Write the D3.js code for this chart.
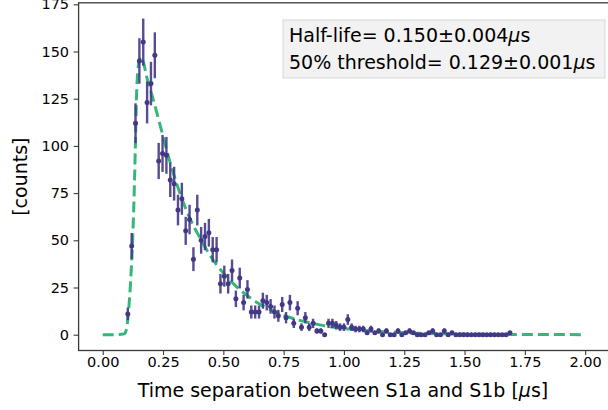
<!DOCTYPE html>
<html>
<head>
<meta charset="utf-8">
<script src="https://cdn.jsdelivr.net/npm/d3@7"></script>
<style>
  html, body { margin: 0; padding: 0; background: #fff; }
  svg { display: block; }
  text { font-family: "DejaVu Sans", sans-serif; fill: #000; }
</style>
</head>
<body>
<svg id="chart" width="608" height="410"></svg>
<script>
// ---- data ----
const binCenters = [
  0.104,0.120,0.136,0.152,0.168,0.184,0.200,0.216,0.232,0.248,
  0.264,0.280,0.296,0.312,0.328,0.344,0.360,0.376,0.392,0.408,
  0.424,0.440,0.456,0.472,0.488,0.504,0.520,0.536,0.552,0.568,
  0.584,0.600,0.616,0.632,0.648,0.664,0.680,0.696,0.712,0.728,
  0.744,0.760,0.776,0.792,0.808,0.824,0.840,0.856,0.872,0.888,
  0.904,0.920,0.936,0.952,0.968,0.984,1.000,1.016,1.032,1.048,
  1.064,1.080,1.096,1.112,1.128,1.144,1.160,1.176,1.192,1.208,
  1.224,1.240,1.256,1.272,1.288,1.304,1.320,1.336,1.352,1.368,
  1.384,1.400,1.416,1.432,1.448,1.464,1.480,1.496,1.512,1.528,
  1.544,1.560,1.576,1.592,1.608,1.624,1.640,1.656,1.672,1.688
];
const counts = [
  11,47,112,145,155,123,133,148,92,96,
  95,82,80,66,72,55,61,40,66,50,
  52,54,45,45,27,31,27,34,19,30,
  17,24,12,12,12,18,17,15,12,10,
  16,9,17,6,14,4,9,4,6,2,
  2,0,6,6,5,4,4,8,4,3,
  3,3,1,3,1,2,0,2,0,0,
  2,0,1,2,1,0,0,0,1,2,
  0,0,2,0,1,0,0,0,0,0,
  0,0,0,0,0,0,0,0,0,1
];
const countErrors = [
  3.32,6.86,10.58,12.04,12.45,11.09,11.53,12.17,9.59,9.80,
  9.75,9.06,8.94,8.12,8.49,7.42,7.81,6.32,8.12,7.07,
  7.21,7.35,6.71,6.71,5.20,5.57,5.20,5.83,4.36,5.48,
  4.12,4.90,3.46,3.46,3.46,4.24,4.12,3.87,3.46,3.16,
  4.00,3.00,4.12,2.45,3.74,2.00,3.00,2.00,2.45,1.41,
  1.41,0,2.45,2.45,2.24,2.00,2.00,2.83,2.00,1.73,
  1.73,1.73,1.00,1.73,1.00,1.41,0,1.41,0,0,
  1.41,0,1.00,1.41,1.00,0,0,0,1.00,1.41,
  0,0,1.41,0,1.00,0,0,0,0,0,
  0,0,0,0,0,0,0,0,0,1.00
];
// fitted curve
const fitX = [0,0.05,0.09,0.1,0.106,0.116,0.123,0.13,0.135,0.14,0.145,0.152,0.159,0.168,0.182,0.21,0.24,0.28,0.32,0.36,0.4,0.45,0.5,0.55,0.6,0.65,0.7,0.75,0.8,0.9,1.0,1.1,1.2,1.3,1.4,1.5,1.6,1.75,2.0];
const fitY = [0,0,0.5,4,11,29,47,73,98,126,139,145.5,147.2,144.6,136.7,124.3,110,91,75,62,52,41,32.7,26,20.6,16.3,13,10.3,8.2,5.2,3.25,2.05,1.3,0.8,0.5,0.32,0.2,0.1,0.03];
const xTicks = [0,0.25,0.5,0.75,1.0,1.25,1.5,1.75,2.0];
const yTicks = [0,25,50,75,100,125,150,175];
const xLabel = "Time separation between S1a and S1b [";
const yLabel = "[counts]";
const infoLines = [["Half-life= 0.150±0.004", "s"], ["50% threshold= 0.129±0.001", "s"]];

// ---- drawing ----
(function () {
const svg = d3.select("#chart");
const W = 608, H = 410;
svg.append("rect").attr("width", W).attr("height", H).attr("fill", "#fff");

const mLeft = 78.6, mRight = 609.3, mTop = 2.8, mBottom = 350.5;
const x = d3.scaleLinear().domain([-0.1, 2.1]).range([mLeft, mRight]);
const y = d3.scaleLinear().domain([-8.37, 175.8]).range([mBottom, mTop]);

const purple = "#433886";
const green = "#35b779";

// fit curve
const line = d3.line().x((d, i) => x(fitX[i])).y((d, i) => y(fitY[i])).curve(d3.curveMonotoneX);
svg.append("path").datum(fitY).attr("d", line)
  .attr("fill", "none").attr("stroke", green).attr("stroke-width", 3)
  .attr("stroke-dasharray", "11,5");

// error bars
const pts = svg.append("g");
pts.selectAll("line.err").data(counts).enter().append("line")
  .attr("x1", (d, i) => x(binCenters[i])).attr("x2", (d, i) => x(binCenters[i]))
  .attr("y1", (d, i) => y(d - countErrors[i])).attr("y2", (d, i) => y(d + countErrors[i]))
  .attr("stroke", purple).attr("stroke-width", 2.4).attr("stroke-opacity", 0.9);
pts.selectAll("circle").data(counts).enter().append("circle")
  .attr("cx", (d, i) => x(binCenters[i])).attr("cy", d => y(d))
  .attr("r", 2.5).attr("fill", purple);

// spines
svg.append("rect").attr("x", mLeft).attr("y", mTop).attr("width", mRight - mLeft).attr("height", mBottom - mTop)
  .attr("fill", "none").attr("stroke", "#3a3a3a").attr("stroke-width", 1.3);

// axes
const xAxis = d3.axisBottom(x).tickValues(xTicks).tickFormat(d3.format(".2f"))
  .tickSize(4.5).tickPadding(1.5).tickSizeOuter(0);
const gx = svg.append("g").attr("transform", `translate(0,${mBottom})`).call(xAxis);
gx.select(".domain").remove();
gx.selectAll("line").attr("stroke", "#3a3a3a").attr("stroke-width", 1.1);
gx.selectAll("text").attr("font-size", "14.5px").attr("font-family", "DejaVu Sans").attr("fill", "#111");

const yAxis = d3.axisLeft(y).tickValues(yTicks).tickFormat(d3.format("d"))
  .tickSize(5).tickPadding(4.5).tickSizeOuter(0);
const gy = svg.append("g").attr("transform", `translate(${mLeft},0)`).call(yAxis);
gy.select(".domain").remove();
gy.selectAll("line").attr("stroke", "#3a3a3a").attr("stroke-width", 1.1);
gy.selectAll("text").attr("font-size", "14.5px").attr("font-family", "DejaVu Sans").attr("fill", "#111");

// axis labels
const xl = svg.append("text").attr("x", (mLeft + mRight) / 2 - 1).attr("y", 396.5)
  .attr("text-anchor", "middle").attr("font-size", "19px").attr("fill", "#111");
xl.append("tspan").text(xLabel);
xl.append("tspan").attr("font-style", "italic").text("μ");
xl.append("tspan").text("s]");

svg.append("text").attr("transform", `translate(27,${(mTop + mBottom) / 2}) rotate(-90)`)
  .attr("text-anchor", "middle").attr("font-size", "19px").attr("fill", "#111").text(yLabel);

// info box
svg.append("rect").attr("x", 283).attr("y", 20).attr("width", 322).attr("height", 58)
  .attr("fill", "#f2f2f2").attr("stroke", "#d6d6d6").attr("stroke-width", 1);
infoLines.forEach((ln, i) => {
  const t = svg.append("text").attr("x", 289).attr("y", 42 + i * 26.5)
    .attr("font-size", "19px").attr("fill", "#111");
  t.append("tspan").text(ln[0]);
  t.append("tspan").attr("font-style", "italic").text("μ");
  t.append("tspan").text(ln[1]);
});
})();
</script>
</body>
</html>
